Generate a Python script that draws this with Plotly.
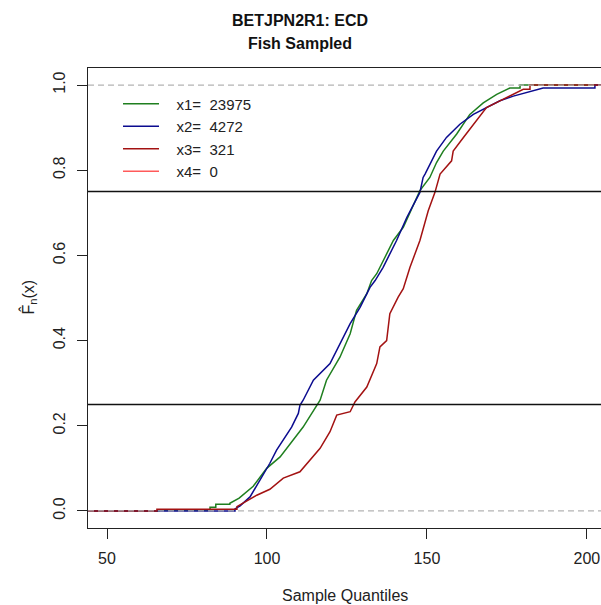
import plotly.graph_objects as go

# ---- data (ECDF knots; flat tails given as explicit corners) ----
XMIN, XMAX = 44.06, 204.4

x1_q = [66.3, 66.3, 82.2, 82.2, 84.0, 84.0, 88.4, 88.4, 91.3, 95.7, 99.9, 104.1, 107.2, 111.3,
        114.0, 115.5, 116.6, 118.6, 122.8, 126.0, 128.0, 131.2, 132.7, 134.3, 139.5, 142.6,
        147.8, 150.9, 153.0, 155.1, 159.3, 163.4, 167.6, 171.8, 175.9, 179.1, 179.1]
x1_F = [0.0, 0.002, 0.002, 0.009, 0.009, 0.016, 0.016, 0.018, 0.030, 0.058, 0.100, 0.127, 0.158,
        0.197, 0.229, 0.248, 0.260, 0.307, 0.361, 0.416, 0.471, 0.510, 0.541, 0.557, 0.635,
        0.666, 0.752, 0.783, 0.818, 0.845, 0.885, 0.931, 0.958, 0.978, 0.993, 0.993, 1.0]

x2_q = [90.0, 90.0, 91.6, 94.7, 97.8, 100.9, 103.0, 105.1, 107.7, 109.8, 110.3, 111.3, 114.5,
        119.7, 122.8, 126.0, 129.1, 132.2, 133.8, 136.3, 140.5, 143.7, 147.8, 148.8, 149.4,
        151.5, 153.0, 156.1, 160.3, 164.5, 168.6, 172.8, 177.0, 181.1, 186.3, 202.5, 202.5]
x2_F = [0.0, 0.005, 0.012, 0.033, 0.073, 0.112, 0.143, 0.166, 0.197, 0.229, 0.248, 0.260, 0.307,
        0.346, 0.393, 0.440, 0.478, 0.525, 0.541, 0.572, 0.635, 0.689, 0.748, 0.783, 0.791,
        0.822, 0.845, 0.877, 0.908, 0.931, 0.947, 0.963, 0.974, 0.982, 0.993, 0.993, 1.0]

x3_q = [65.6, 65.6, 90.6, 90.6, 96.8, 100.9, 105.1, 110.3, 113.4, 116.6, 119.7, 121.8, 126.0,
        127.0, 127.5, 131.2, 134.3, 135.3, 137.4, 138.4, 141.0, 142.6, 144.7, 147.8, 150.4,
        152.5, 154.1, 157.7, 158.2, 161.4, 165.5, 168.6, 172.8, 177.0, 180.1, 182.2, 182.2]
x3_F = [0.0, 0.004, 0.004, 0.010, 0.037, 0.051, 0.077, 0.092, 0.119, 0.147, 0.186, 0.225, 0.233,
        0.248, 0.256, 0.291, 0.346, 0.385, 0.400, 0.463, 0.502, 0.522, 0.572, 0.635, 0.705,
        0.748, 0.791, 0.822, 0.845, 0.877, 0.916, 0.947, 0.963, 0.978, 0.990, 0.990, 1.0]

x4_q = []
x4_F = []

names = ["\u00a0\u00a0\u00a0x1=\u00a0 23975", "\u00a0\u00a0\u00a0x2=\u00a0 4272",
         "\u00a0\u00a0\u00a0x3=\u00a0 321", "\u00a0\u00a0\u00a0x4=\u00a0 0"]
colors = ["#1f7f1f", "#0b0b8f", "#a31212", "#ff5a5a"]

x_ticks = [50, 100, 150, 200]
y_ticks = [0.0, 0.2, 0.4, 0.6, 0.8, 1.0]
y_ticklabels = ["0.0", "0.2", "0.4", "0.6", "0.8", "1.0"]
quart_lines = [0.25, 0.75]
bound_lines = [0.0, 1.0]

FONT = "Liberation Sans, Arial, sans-serif"

fig = go.Figure()
series = [(x1_q, x1_F), (x2_q, x2_F), (x3_q, x3_F), (x4_q, x4_F)]
for (q, F), nm, col in zip(series, names, colors):
    if q:
        xs = [XMIN] + q + [XMAX]
        ys = [0.0] + F + [1.0]
    else:
        xs, ys = [None], [None]
    fig.add_trace(go.Scatter(x=xs, y=ys, mode="lines", name=nm,
                             line=dict(color=col, width=1.5, shape="linear"),
                             hoverinfo="skip"))

for yv in quart_lines:
    fig.add_hline(y=yv, line=dict(color="#111111", width=1.3), layer="above")
for yv in bound_lines:
    fig.add_hline(y=yv, line=dict(color="#b4b4b4", width=1.2, dash="6px,4px"), layer="above")

fig.update_layout(
    width=601, height=605,
    margin=dict(l=88, r=0, t=68, b=77),
    paper_bgcolor="white", plot_bgcolor="white",
    font=dict(family=FONT, size=16, color="#222222"),
    showlegend=True,
    legend=dict(x=0.0585, y=0.9577, xanchor="left", yanchor="top",
                bgcolor="rgba(0,0,0,0)", borderwidth=0,
                font=dict(size=15, family=FONT, color="#222222"),
                tracegroupgap=0, itemwidth=36),
    xaxis=dict(range=[XMIN, XMAX], tickvals=x_ticks, ticks="outside", ticklen=10,
               tickwidth=1.2, tickcolor="#222222", showline=True, linecolor="#222222",
               linewidth=1.2, mirror=True, showgrid=False, zeroline=False,
               ticklabelstandoff=6, tickfont=dict(size=16)),
    yaxis=dict(range=[-0.04, 1.04], tickvals=y_ticks, ticktext=y_ticklabels,
               ticks="outside", ticklen=10, tickwidth=1.2, tickcolor="#222222",
               showline=True, linecolor="#222222", linewidth=1.2, mirror=False,
               showgrid=False, zeroline=False, tickangle=-90,
               ticklabelstandoff=6, tickfont=dict(size=16)),
    annotations=[
        dict(text="<b>BETJPN2R1: ECD</b>", xref="paper", yref="paper", x=0.4133, y=1.1043,
             xanchor="center", yanchor="middle", showarrow=False,
             font=dict(size=16, family=FONT, color="#111111")),
        dict(text="<b>Fish Sampled</b>", xref="paper", yref="paper", x=0.4133, y=1.0543,
             xanchor="center", yanchor="middle", showarrow=False,
             font=dict(size=16, family=FONT, color="#111111")),
        dict(text="Sample Quantiles", xref="paper", yref="paper", x=0.5, y=-0.1457,
             xanchor="center", yanchor="middle", showarrow=False,
             font=dict(size=16, family=FONT, color="#222222")),
        dict(text="F\u0302<sub>n</sub>(x)", xref="paper", yref="paper", x=-0.116, y=0.502,
             xanchor="center", yanchor="middle", showarrow=False, textangle=-90,
             font=dict(size=16, family=FONT, color="#222222")),
    ],
)

fig.write_html("out.html")
